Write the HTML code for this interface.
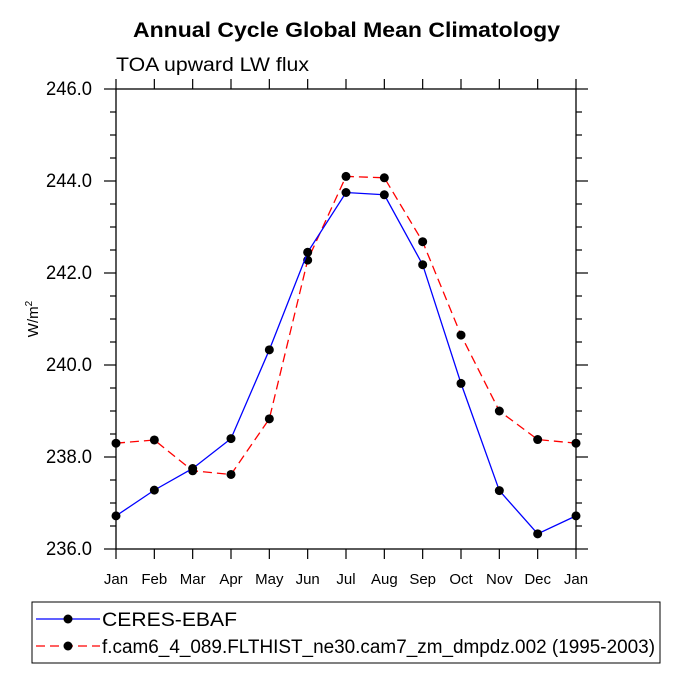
<!DOCTYPE html>
<html><head><meta charset="utf-8"><style>body{margin:0;background:#fff}svg{display:block}text{font-family:"Liberation Sans",Arial,sans-serif}</style></head>
<body>
<svg id="c" width="682" height="682" viewBox="0 0 682 682">
<text x="133" y="37" textLength="427" lengthAdjust="spacingAndGlyphs" font-size="21" font-weight="bold">Annual Cycle Global Mean Climatology</text>
<text x="116" y="71" textLength="193" lengthAdjust="spacingAndGlyphs" font-size="19">TOA upward LW flux</text>
<text transform="translate(38,319) rotate(-90)" text-anchor="middle" font-size="15">W/m<tspan dy="-6" font-size="10">2</tspan></text>
<g id="axes"></g><g id="series"></g>
<g>
<rect x="32" y="602" width="628" height="61" fill="none" stroke="#000" stroke-width="1"/>
<g>
<line x1="36" y1="619" x2="100" y2="619" stroke="#00f" stroke-width="1.3"/><circle cx="68" cy="619" r="4.5"/>
<text x="102" y="626" textLength="135" lengthAdjust="spacingAndGlyphs" font-size="19">CERES-EBAF</text></g>
<g>
<line x1="36" y1="646" x2="100" y2="646" stroke="#f00" stroke-width="1.3" stroke-dasharray="9,5"/><circle cx="68" cy="646" r="4.5"/>
<text x="102" y="653" textLength="553" lengthAdjust="spacingAndGlyphs" font-size="19">f.cam6_4_089.FLTHIST_ne30.cam7_zm_dmpdz.002 (1995-2003)</text></g>
</g>
</svg>
<script>
const months=["Jan","Feb","Mar","Apr","May","Jun","Jul","Aug","Sep","Oct","Nov","Dec","Jan"];
const ceres=[236.72,237.28,237.75,238.4,240.33,242.45,243.75,243.7,242.18,239.6,237.27,236.33,236.72];
const model=[238.3,238.37,237.7,237.62,238.83,242.28,244.1,244.07,242.68,240.65,239.0,238.38,238.3];
const yTicks=["236.0","238.0","240.0","242.0","244.0","246.0"];
const L=116,R=576,T=89,B=549,ymin=236,ymax=246;
const X=i=>L+(R-L)*i/12, Y=v=>B-(v-ymin)/(ymax-ymin)*(B-T);
const ns="http://www.w3.org/2000/svg";
function mk(t,a,p){const e=document.createElementNS(ns,t);for(const k in a)e.setAttribute(k,a[k]);p.appendChild(e);return e;}
const ax=document.getElementById('axes');
const fr=mk('rect',{x:L,y:T,width:R-L,height:B-T,fill:'none',stroke:'#000','stroke-width':1.3},ax);


for(let v=ymin;v<=ymax+1e-9;v+=0.5){
  const maj=Math.abs(v-Math.round(v))<1e-9&&Math.round(v)%2===0;const len=maj?12:6;
  mk('line',{x1:L-len,y1:Y(v),x2:L,y2:Y(v),stroke:'#000','stroke-width':1.2},ax);
  mk('line',{x1:R,y1:Y(v),x2:R+len,y2:Y(v),stroke:'#000','stroke-width':1.2},ax);
}
yTicks.forEach(s=>{const t=mk('text',{x:L-24,y:Y(+s)+6,'text-anchor':'end','font-size':19,textLength:46,lengthAdjust:'spacingAndGlyphs'},ax);t.textContent=s;

});
months.forEach((m,i)=>{
  mk('line',{x1:X(i),y1:B,x2:X(i),y2:B+10,stroke:'#000','stroke-width':1.2},ax);
  mk('line',{x1:X(i),y1:T-10,x2:X(i),y2:T,stroke:'#000','stroke-width':1.2},ax);
  const t=mk('text',{x:X(i),y:B+35,'text-anchor':'middle','font-size':15},ax);t.textContent=m;
  
  
});
const sg=document.getElementById('series');
function draw(d,col,dash,name){
  const g=mk('g',{},sg);
  
  
  const a={points:d.map((v,i)=>X(i)+','+Y(v)).join(' '),fill:'none',stroke:col,'stroke-width':1.3};
  if(dash)a['stroke-dasharray']=dash;
  mk('polyline',a,g);
  d.forEach((v,i)=>{const c=mk('circle',{cx:X(i),cy:Y(v),r:4.5,fill:'#000'},g);
  
  });
}
draw(model,'#f00','9,5','series-model');
draw(ceres,'#00f',null,'series-ceres');
</script>
</body></html>
